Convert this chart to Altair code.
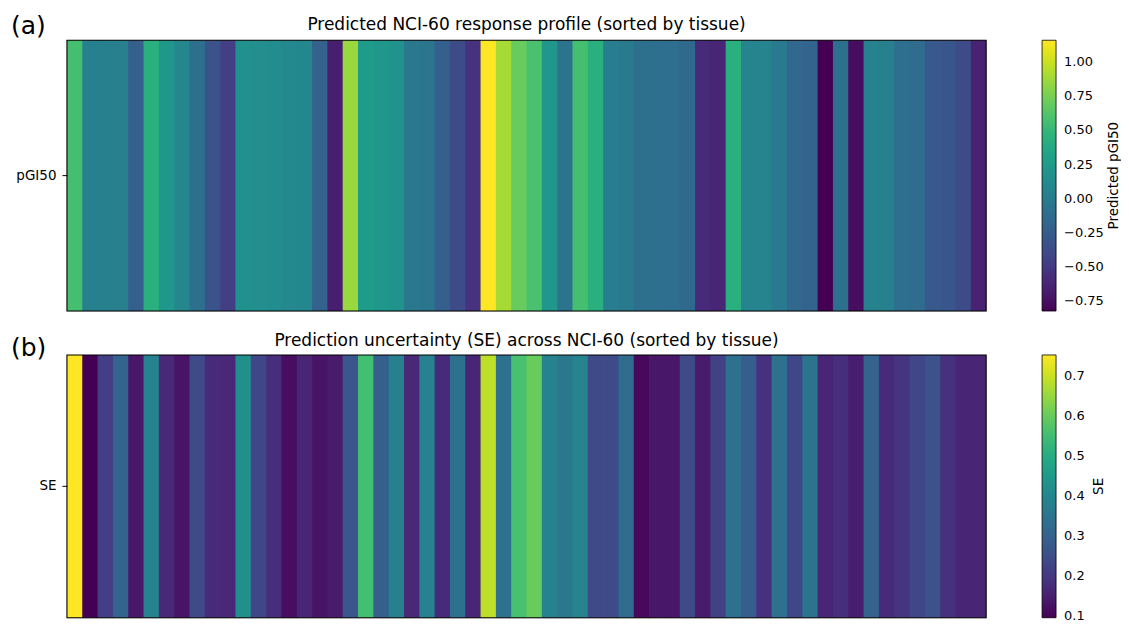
import altair as alt
import pandas as pd

FONT = "DejaVu Sans"

pgi50 = [0.57, 0.03, 0.03, 0.02, -0.23, 0.43, 0.23, 0.09, -0.09, -0.31,
         -0.46, 0.17, 0.15, 0.13, 0.11, 0.09, -0.21, -0.66, 0.86, 0.27,
         0.23, 0.19, -0.03, -0.05, -0.23, -0.38, -0.54, 1.16, 0.90, 0.70,
         0.59, 0.23, -0.07, 0.57, 0.43, 0.01, -0.01, -0.09, -0.11, -0.11,
         -0.15, -0.58, -0.62, 0.43, 0.07, 0.07, -0.01, -0.17, -0.19, -0.82,
         -0.09, -0.76, 0.05, 0.03, -0.11, -0.13, -0.27, -0.29, -0.38, -0.64]

se = [0.752, 0.095, 0.213, 0.300, 0.134, 0.384, 0.167, 0.128, 0.240, 0.174,
      0.167, 0.420, 0.233, 0.180, 0.115, 0.160, 0.128, 0.141, 0.272, 0.555,
      0.290, 0.378, 0.167, 0.384, 0.174, 0.338, 0.160, 0.686, 0.338, 0.560,
      0.600, 0.384, 0.358, 0.390, 0.240, 0.240, 0.325, 0.108, 0.134, 0.134,
      0.240, 0.141, 0.220, 0.338, 0.285, 0.187, 0.338, 0.233, 0.345, 0.160,
      0.180, 0.148, 0.300, 0.174, 0.194, 0.233, 0.260, 0.187, 0.160, 0.160]

cell = list(range(len(pgi50)))

top_ticks = [-0.75, -0.5, -0.25, 0.0, 0.25, 0.5, 0.75, 1.0]
bot_ticks = [0.1, 0.2, 0.3, 0.4, 0.5, 0.6, 0.7]

df_top = pd.DataFrame({"cell": cell, "row": ["pGI50"] * len(cell), "pGI50": pgi50})
df_bot = pd.DataFrame({"cell": cell, "row": ["SE"] * len(cell), "SE": se})

W = 920
N = len(cell)


def panel(df, field, domain, ticks, fmt, title, legend_title, tag, h,
          title_y, tag_y, lt_x):
    cscale = alt.Scale(scheme="viridis", domain=domain)
    heat = alt.Chart(df).transform_calculate(
        cell2=f"min(datum.cell + 1.05, {N})"
    ).mark_rect().encode(
        x=alt.X("cell:Q", axis=None,
                scale=alt.Scale(domain=[0, N], nice=False, zero=False)),
        x2="cell2:Q",
        y=alt.Y("row:N", title=None,
                axis=alt.Axis(labelFont=FONT, labelFontSize=13.5, labelColor="black",
                              tickColor="black", domain=False, tickSize=5,
                              labelPadding=6)),
        color=alt.Color(f"{field}:Q", scale=cscale,
                        legend=alt.Legend(
                            type="gradient", title=None,
                            values=ticks, format=fmt,
                            labelExpr=f"replace(format(datum.value, '{fmt}'), '-', '\u2212')",
                            labelFont=FONT, labelFontSize=13, labelColor="black",
                            labelOffset=8,
                            gradientLength=h, gradientThickness=14,
                            gradientStrokeColor="black", gradientStrokeWidth=0.8,
                            offset=56, orient="right", padding=0)),
    )
    txt = pd.DataFrame({"tag": [tag], "title": [title], "lt": [legend_title]})
    border = alt.Chart(txt).mark_rect(
        fill=None, filled=False, stroke="black", strokeWidth=1.1
    ).encode(x=alt.value(0), x2=alt.value(W), y=alt.value(0), y2=alt.value(h))
    tag_mark = alt.Chart(txt).mark_text(
        font=FONT, fontSize=25, align="left", baseline="middle", color="black"
    ).encode(x=alt.value(-56), y=alt.value(tag_y), text="tag:N")
    title_mark = alt.Chart(txt).mark_text(
        font=FONT, fontSize=17, align="center", baseline="middle", color="black"
    ).encode(x=alt.value(W / 2), y=alt.value(title_y), text="title:N")
    lt_mark = alt.Chart(txt).mark_text(
        font=FONT, fontSize=13.5, align="center", baseline="middle", angle=270,
        color="black"
    ).encode(x=alt.value(lt_x), y=alt.value(h / 2), text="lt:N")
    return alt.layer(heat, border, tag_mark, title_mark, lt_mark).properties(
        width=W, height=h)


top = panel(df_top, "pGI50", [-0.82, 1.16], top_ticks, ".2f",
            "Predicted NCI-60 response profile (sorted by tissue)",
            "Predicted pGI50", "(a)", 271, -15, -14, 1048)
bot = panel(df_bot, "SE", [0.095, 0.752], bot_ticks, ".1f",
            "Prediction uncertainty (SE) across NCI-60 (sorted by tissue)",
            "SE", "(b)", 263, -14, -7, 1033)

chart = alt.vconcat(top, bot, spacing=18).resolve_scale(
    color="independent"
).resolve_legend(color="independent").properties(
    padding={"left": 2, "top": 5, "right": 0, "bottom": 0}
).configure_view(stroke=None).configure(background="white")

chart.save("out.html", embed_options={"renderer": "svg", "actions": False})
